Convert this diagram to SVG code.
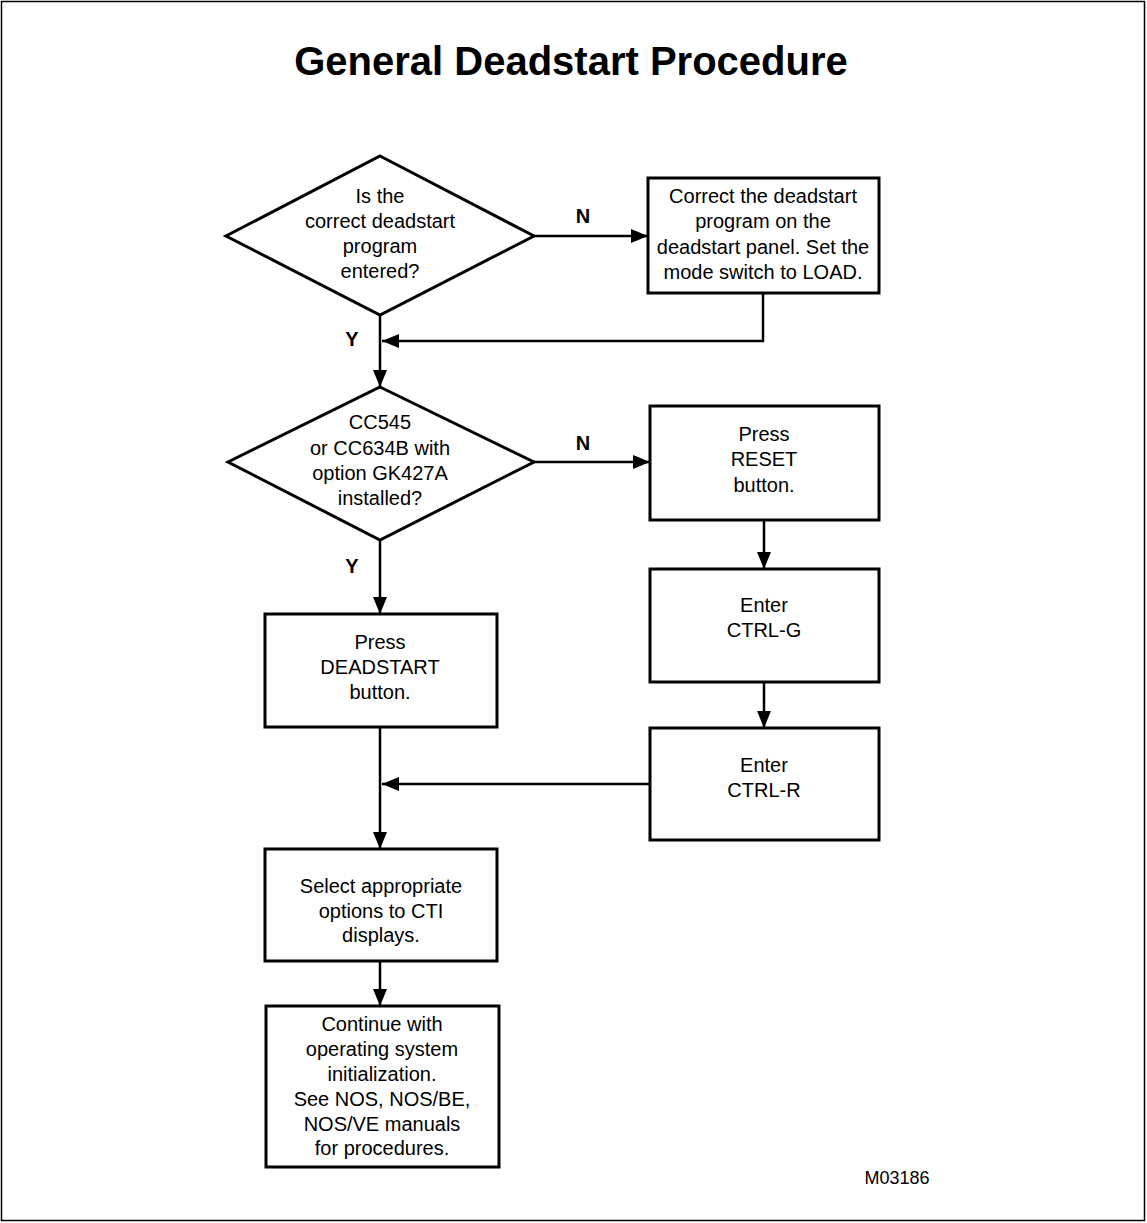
<svg xmlns="http://www.w3.org/2000/svg" width="1147" height="1223" viewBox="0 0 1147 1223">
<defs>
<marker id="arr" markerUnits="userSpaceOnUse" markerWidth="18" markerHeight="16" refX="17" refY="7.5" orient="auto">
<path d="M0,0.5 L17,7.5 L0,14.5 z" fill="#000"/>
</marker>
<style>
.box{fill:#fff;stroke:#000;stroke-width:3}
.conn{fill:none;stroke:#000;stroke-width:2.5}
.t{font-family:"Liberation Sans",Arial,Helvetica,sans-serif;font-size:20px;fill:#000;text-anchor:middle}
.lbl{font-family:"Liberation Sans",Arial,Helvetica,sans-serif;font-size:20px;fill:#000;text-anchor:middle;font-weight:bold}
.title{font-family:"Liberation Sans",Arial,Helvetica,sans-serif;font-size:40px;font-weight:bold;fill:#000;text-anchor:middle}
</style>
</defs>
<rect x="0" y="0" width="1147" height="1223" fill="#fff"/>
<rect x="1.5" y="1.5" width="1143" height="1219" fill="none" stroke="#000" stroke-width="1.5"/>
<text class="title" x="571" y="75">General Deadstart Procedure</text>

<g id="connectors">
<line class="conn" x1="534" y1="236" x2="648" y2="236" marker-end="url(#arr)"/>
<polyline class="conn" points="763,293 763,341 382,341" marker-end="url(#arr)"/>
<line class="conn" x1="380" y1="315" x2="380" y2="387" marker-end="url(#arr)"/>
<line class="conn" x1="534" y1="462" x2="650" y2="462" marker-end="url(#arr)"/>
<line class="conn" x1="764" y1="520" x2="764" y2="569" marker-end="url(#arr)"/>
<line class="conn" x1="764" y1="682" x2="764" y2="728" marker-end="url(#arr)"/>
<line class="conn" x1="380" y1="540" x2="380" y2="614" marker-end="url(#arr)"/>
<line class="conn" x1="380" y1="727" x2="380" y2="849" marker-end="url(#arr)"/>
<line class="conn" x1="650" y1="784" x2="382" y2="784" marker-end="url(#arr)"/>
<line class="conn" x1="380" y1="961" x2="380" y2="1006" marker-end="url(#arr)"/>
<text class="lbl" x="583" y="223">N</text>
<text class="lbl" x="352" y="346">Y</text>
<text class="lbl" x="583" y="450">N</text>
<text class="lbl" x="352" y="573">Y</text>
</g>

<g id="d1">
<polygon class="box" points="380,156 534,236 380,315 226,236"/>
<text class="t" x="380" y="203">Is the</text>
<text class="t" x="380" y="228">correct deadstart</text>
<text class="t" x="380" y="253">program</text>
<text class="t" x="380" y="278">entered?</text>
</g>

<g id="b1">
<rect class="box" x="648" y="178" width="231" height="115"/>
<text class="t" x="763" y="203">Correct the deadstart</text>
<text class="t" x="763" y="228">program on the</text>
<text class="t" x="763" y="254">deadstart panel. Set the</text>
<text class="t" x="763" y="279">mode switch to LOAD.</text>
</g>

<g id="d2">
<polygon class="box" points="380,387 534,462 380,540 228,462"/>
<text class="t" x="380" y="429">CC545</text>
<text class="t" x="380" y="455">or CC634B with</text>
<text class="t" x="380" y="480">option GK427A</text>
<text class="t" x="380" y="505">installed?</text>
</g>

<g id="reset">
<rect class="box" x="650" y="406" width="229" height="114"/>
<text class="t" x="764" y="441">Press</text>
<text class="t" x="764" y="466">RESET</text>
<text class="t" x="764" y="492">button.</text>
</g>

<g id="ctrlg">
<rect class="box" x="650" y="569" width="229" height="113"/>
<text class="t" x="764" y="612">Enter</text>
<text class="t" x="764" y="637">CTRL-G</text>
</g>

<g id="ctrlr">
<rect class="box" x="650" y="728" width="229" height="112"/>
<text class="t" x="764" y="772">Enter</text>
<text class="t" x="764" y="797">CTRL-R</text>
</g>

<g id="deadstart">
<rect class="box" x="265" y="614" width="232" height="113"/>
<text class="t" x="380" y="649">Press</text>
<text class="t" x="380" y="674">DEADSTART</text>
<text class="t" x="380" y="699">button.</text>
</g>

<g id="select">
<rect class="box" x="265" y="849" width="232" height="112"/>
<text class="t" x="381" y="893">Select appropriate</text>
<text class="t" x="381" y="918">options to CTI</text>
<text class="t" x="381" y="942">displays.</text>
</g>

<g id="continue">
<rect class="box" x="266" y="1006" width="233" height="161"/>
<text class="t" x="382" y="1031">Continue with</text>
<text class="t" x="382" y="1056">operating system</text>
<text class="t" x="382" y="1081">initialization.</text>
<text class="t" x="382" y="1106">See NOS, NOS/BE,</text>
<text class="t" x="382" y="1131">NOS/VE manuals</text>
<text class="t" x="382" y="1155">for procedures.</text>
</g>

<text class="t" x="897" y="1184" style="font-size:18px">M03186</text>
</svg>
